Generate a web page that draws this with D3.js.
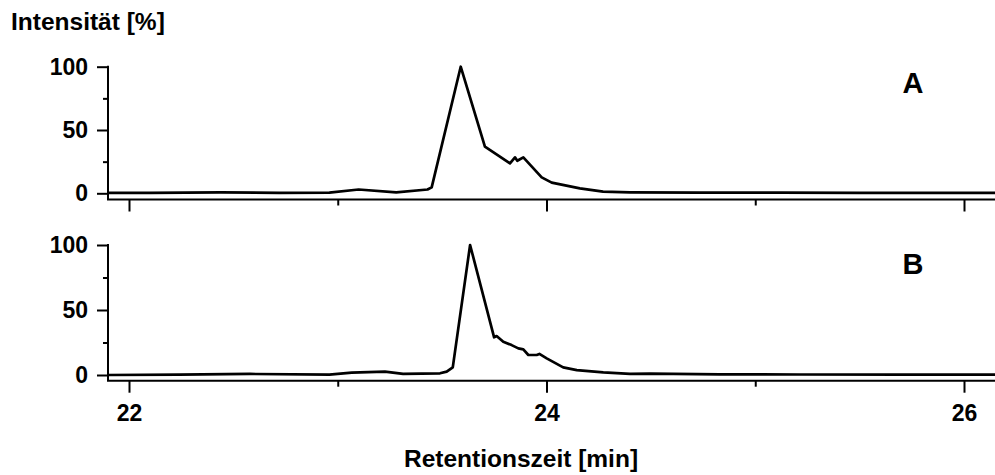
<!DOCTYPE html>
<html lang="de">
<head>
<meta charset="utf-8">
<title>Chromatogramm A / B</title>
<script type="text/javascript" src="https://d3js.org/d3.v7.min.js"></script>
<style>
  body { margin: 0; background: #fff; }
  text { font-family: "Liberation Sans", Arial, sans-serif; font-weight: bold; fill: #000; }
  .axis text { font-size: 23px; }
  .axis line { stroke: #000; stroke-width: 2px; }
  .trace { fill: none; stroke: #000; stroke-width: 2.7px; stroke-linejoin: round; }
</style>
</head>
<body>
<div id="chart"></div>
<script type="text/javascript">

// DATA
var timeA = [21.90, 22.10, 22.44, 22.72, 22.96, 23.10, 23.28, 23.43, 23.45, 23.589,
             23.705, 23.825, 23.849, 23.860, 23.889, 23.977, 24.025, 24.160, 24.271,
             24.400, 24.735, 25.12, 25.50, 25.84, 26.15];
var intensityA = [0.3, 0.3, 0.8, 0.4, 0.5, 3.0, 0.8, 3.0, 4.7, 100,
                  36.8, 23.7, 28.4, 25.7, 28.4, 12.6, 8.4, 3.9, 1.3,
                  0.8, 0.6, 0.5, 0.4, 0.3, 0.3];

var timeB = [21.90, 22.24, 22.58, 22.96, 23.067, 23.226, 23.313, 23.490, 23.522, 23.551,
             23.634, 23.749, 23.761, 23.793, 23.833, 23.865, 23.889, 23.913, 23.953,
             23.966, 24.001, 24.080, 24.145, 24.272, 24.400, 24.496, 24.83, 25.21, 25.69, 26.15];
var intensityB = [0.0, 0.3, 0.8, 0.3, 1.8, 2.6, 0.8, 1.3, 2.6, 5.9,
                  100, 29, 30, 25.6, 23, 20.5, 19.7, 15.4, 15.4,
                  16.2, 12.8, 5.9, 3.8, 2.0, 0.8, 1.0, 0.5, 0.4, 0.3, 0.3];

var xMajor = [22, 24, 26];
var xMinor = [23, 25];
var yMajor = [0, 50, 100];
var yMinor = [25, 75];
var panelLabels = ["A", "B"];

var w = 995;
var h = 475;

var svg = d3.select("div#chart").append("svg")
  .attr("width", w)
  .attr("height", h);

var x = d3.scaleLinear().domain([22, 26]).range([129, 964]);
var left = 108;

var panels = [
  { t: timeA, v: intensityA, y: d3.scaleLinear().domain([0, 100]).range([193.3, 66.7]), axisY: 199.5, label: panelLabels[0], labelY: 93 },
  { t: timeB, v: intensityB, y: d3.scaleLinear().domain([0, 100]).range([375, 245]), axisY: 380.7, label: panelLabels[1], labelY: 274 }
];

panels.forEach(function(p, i) {
  var g = svg.append("g");

  // Y AXIS
  var ya = g.append("g").attr("class", "axis").attr("transform", "translate(" + left + ",0)");
  ya.call(d3.axisLeft(p.y).tickValues(yMajor).tickSize(11).tickPadding(9));
  ya.select(".domain").remove();
  var ym = g.append("g").attr("class", "axis").attr("transform", "translate(" + left + ",0)");
  ym.call(d3.axisLeft(p.y).tickValues(yMinor).tickSize(5).tickFormat(""));
  ym.select(".domain").remove();
  g.append("line")
    .attr("x1", left).attr("x2", left)
    .attr("y1", p.y(100) - 1).attr("y2", p.axisY)
    .attr("stroke", "#000").attr("stroke-width", 2);

  // X AXIS
  var xa = g.append("g").attr("class", "axis").attr("transform", "translate(0," + p.axisY + ")");
  xa.call(d3.axisBottom(x).tickValues(xMajor).tickSize(12).tickPadding(12)
    .tickFormat(i === 1 ? d3.format("d") : ""));
  xa.select(".domain").remove();
  var xm = g.append("g").attr("class", "axis").attr("transform", "translate(0," + p.axisY + ")");
  xm.call(d3.axisBottom(x).tickValues(xMinor).tickSize(6).tickFormat(""));
  xm.select(".domain").remove();
  g.append("line")
    .attr("x1", left - 1).attr("x2", w)
    .attr("y1", p.axisY).attr("y2", p.axisY)
    .attr("stroke", "#000").attr("stroke-width", 2);

  // TRACE
  var line = d3.line()
    .x(function(d) { return x(d[0]); })
    .y(function(d) { return p.y(d[1]); });
  g.append("path")
    .datum(d3.zip(p.t, p.v))
    .attr("class", "trace")
    .attr("d", line);

  g.append("text").text(p.label)
    .attr("x", 913).attr("y", p.labelY)
    .attr("text-anchor", "middle")
    .style("font-size", "29px");
});

// TITLES
svg.append("text").text("Intensität [%]")
  .attr("x", 11).attr("y", 30)
  .style("font-size", "24.5px");

svg.append("text").text("Retentionszeit [min]")
  .attr("x", 521).attr("y", 467)
  .attr("text-anchor", "middle")
  .style("font-size", "24.5px");

</script>
</body>
</html>
